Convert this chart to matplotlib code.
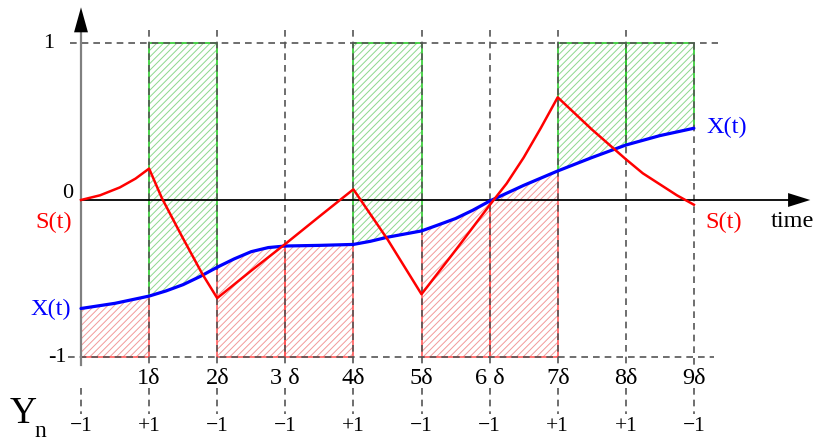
import matplotlib
matplotlib.use("Agg")
import matplotlib.pyplot as plt
import numpy as np

plt.rcParams['font.family'] = ['Liberation Serif', 'DejaVu Serif']
plt.rcParams['hatch.linewidth'] = 0.7

# ---- data ----
delta_ticks = [1, 2, 3, 4, 5, 6, 7, 8, 9]
delta_labels = ["1δ", "2δ", "3 δ", "4δ", "5δ", "6 δ", "7δ", "8δ", "9δ"]
y_ticks_t = [0, 1, 2, 3, 4, 5, 6, 7, 8, 9]
y_n = [-1, 1, -1, -1, 1, -1, -1, 1, 1, -1]

t_x = [0, 0.5, 1, 1.25, 1.5, 1.75, 2, 2.25, 2.5, 2.75, 3, 3.5, 4, 4.25, 4.5,
       4.75, 5, 5.25, 5.5, 5.75, 6, 6.5, 7, 7.5, 8, 8.5, 9]
x_vals = [-0.691, -0.658, -0.612, -0.579, -0.539, -0.487, -0.428, -0.375,
          -0.329, -0.303, -0.293, -0.289, -0.283, -0.263, -0.237, -0.217,
          -0.197, -0.158, -0.118, -0.066, -0.007, 0.093, 0.185, 0.27, 0.35,
          0.41, 0.457]

t_s = [0, 0.28, 0.57, 0.8, 1, 1.19, 1.48, 1.78, 2, 2.5, 3, 3.5, 4, 4.5, 5, 5.5,
       6, 6.25, 6.5, 6.75, 7, 7.5, 8, 8.25, 8.5, 8.75, 9]
s_vals = [0, 0.03, 0.08, 0.136, 0.20, 0.01, -0.23, -0.47, -0.625, -0.45, -0.28,
          -0.105, 0.068, -0.25, -0.60, -0.32, -0.033, 0.105, 0.27, 0.457, 0.654,
          0.45, 0.26, 0.17, 0.10, 0.03, -0.03]

# ---- figure ----
W, H = 818, 442
fig = plt.figure(figsize=(W / 100, H / 100), dpi=100)
ax = fig.add_axes([0, 0, 1, 1])
ax.axis('off')
px_per_t, x0_px = 68.1, 81
px_per_y, y0_px = 157, 200
ax.set_xlim(-x0_px / px_per_t, (W - x0_px) / px_per_t)
ax.set_ylim((y0_px - H) / px_per_y, y0_px / px_per_y)

tx = np.array(t_x)
xv = np.array(x_vals)

green_edge = '#2ecc2e'
green_hatch = '#8ed88e'
red_edge = '#ff5050'
red_hatch = '#f29a9a'

for n in range(len(y_n) - 1):
    m = (tx >= n) & (tx <= n + 1)
    ts, xs = tx[m], xv[m]
    if y_n[n] > 0:
        ax.fill_between(ts, xs, 1, facecolor='white', edgecolor=green_hatch,
                        hatch='/////', linewidth=0, zorder=1)
        ax.plot(np.r_[ts[0], ts[0], ts[-1], ts[-1]], np.r_[xs[0], 1, 1, xs[-1]],
                color=green_edge, lw=1.2, zorder=2)
        ax.plot(ts, xs, color=green_edge, lw=1.2, zorder=2)
    else:
        ax.fill_between(ts, -1, xs, facecolor='white', edgecolor=red_hatch,
                        hatch='/////', linewidth=0, zorder=1)
        ax.plot(np.r_[ts[0], ts[0], ts[-1], ts[-1]], np.r_[xs[0], -1, -1, xs[-1]],
                color=red_edge, lw=1.1, zorder=2)
        ax.plot(ts, xs, color=red_edge, lw=1.1, zorder=2)

# dashed guides
dash = dict(color='#555555', lw=1.2, linestyle=(0, (4, 3)), zorder=3)
ax.plot([-0.16, 9.35], [1, 1], **dash)
ax.plot([-0.19, 9.3], [-1, -1], **dash)
for t in delta_ticks:
    top = 1.0 if t == 9 else 1.08
    ax.plot([t, t], [top, -1.06], **dash)
for t in y_ticks_t:
    ax.plot([t, t], [-1.2, -1.36], **dash)

# axes
ax.plot([0, 0], [-1.05, 1.12], color='#808080', lw=1.6, zorder=4)
ax.annotate('', xy=(0, 1.245), xytext=(0, 1.08),
            arrowprops=dict(arrowstyle='-|>,head_length=0.9,head_width=0.25',
                            color='black', lw=0, mutation_scale=20), zorder=5)
ax.plot([0, 10.5], [0, 0], color='black', lw=1.3, zorder=4)
ax.annotate('', xy=(10.75, 0), xytext=(10.4, 0),
            arrowprops=dict(arrowstyle='-|>,head_length=0.8,head_width=0.25',
                            color='black', lw=0, mutation_scale=20), zorder=5)

# curves
ax.plot(t_x, x_vals, color='#0000ff', lw=2.3, zorder=6,
        solid_capstyle='round', solid_joinstyle='round')
ax.plot(t_s, s_vals, color='#ff0000', lw=1.8, zorder=7, solid_joinstyle='round')

# texts
fs = 17.5
ax.text(-0.48, 1.0, "1", fontsize=16, ha='center', va='center')
ax.text(-0.12, 0.04, "0", fontsize=16, ha='right', va='center')
ax.text(-0.34, -1.0, "-1", fontsize=16, ha='center', va='center')
ax.text(-0.4, -0.146, "S(t)", fontsize=fs, color='red', ha='center', va='center')
ax.text(9.44, -0.14, "S(t)", fontsize=fs, color='red', ha='center', va='center')
ax.text(-0.44, -0.694, "X(t)", fontsize=fs, color='blue', ha='center', va='center')
ax.text(9.49, 0.465, "X(t)", fontsize=fs, color='blue', ha='center', va='center')
ax.text(10.44, -0.134, "time", fontsize=fs, ha='center', va='center')

for t, lab in zip(delta_ticks, delta_labels):
    ax.text(t, -1.134, lab, fontsize=fs, ha='center', va='center')
for t, v in zip(y_ticks_t, y_n):
    ax.text(t, -1.44, ("+1" if v > 0 else "\u22121"), fontsize=15.5,
            ha='center', va='center')

ax.text(-0.85, -1.36, "Y", fontsize=27, ha='center', va='center')
ax.text(-0.6, -1.475, "n", fontsize=17, ha='center', va='center')

fig.savefig("out.png", dpi=100)
